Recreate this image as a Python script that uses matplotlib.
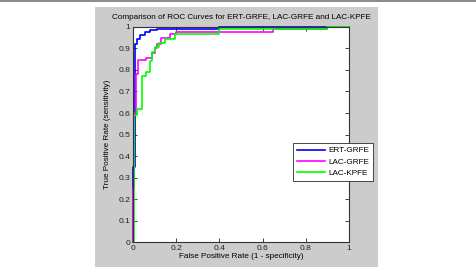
import matplotlib
matplotlib.use("Agg")
import matplotlib.pyplot as plt
from matplotlib.patches import Rectangle

plt.rcParams['font.family'] = ['Liberation Sans', 'DejaVu Sans']

title = "Comparison of ROC Curves for ERT-GRFE, LAC-GRFE and LAC-KPFE"
xlabel = "False Positive Rate (1 - specificity)"
ylabel = "True Positive Rate (sensitivity)"
labels = ["ERT-GRFE", "LAC-GRFE", "LAC-KPFE"]
colors = ["#0000ff", "#ff00ff", "#00ff00"]

ert_fpr = [0, 0, 0.008, 0.008, 0.019, 0.019, 0.032, 0.032, 0.056, 0.056, 0.08, 0.08, 0.11, 0.11, 0.4, 0.4, 1.0]
ert_tpr = [0, 0.35, 0.35, 0.92, 0.92, 0.945, 0.945, 0.96, 0.96, 0.976, 0.976, 0.987, 0.987, 0.99, 0.99, 1.0, 1.0]

lacg_fpr = [0, 0, 0.005, 0.005, 0.012, 0.012, 0.025, 0.025, 0.06, 0.06, 0.087, 0.087, 0.1, 0.1, 0.11, 0.11,
            0.13, 0.13, 0.17, 0.17, 0.2, 0.2, 0.65, 0.65, 0.9, 0.9, 1.0]
lacg_tpr = [0, 0.25, 0.25, 0.6, 0.6, 0.78, 0.78, 0.845, 0.845, 0.855, 0.855, 0.88, 0.88, 0.9, 0.9, 0.92,
            0.92, 0.95, 0.95, 0.965, 0.965, 0.975, 0.975, 0.988, 0.988, 1.0, 1.0]

lack_fpr = [0.005, 0.005, 0.02, 0.02, 0.04, 0.04, 0.059, 0.059, 0.079, 0.079, 0.09, 0.09, 0.1, 0.1,
            0.12, 0.12, 0.15, 0.15, 0.195, 0.195, 0.4, 0.4, 0.9, 0.9, 1.0]
lack_tpr = [0, 0.59, 0.59, 0.62, 0.62, 0.77, 0.77, 0.79, 0.79, 0.843, 0.843, 0.885, 0.885, 0.907,
            0.907, 0.923, 0.923, 0.943, 0.943, 0.965, 0.965, 0.988, 0.988, 1.0, 1.0]

ticks = [0, 0.1, 0.2, 0.3, 0.4, 0.5, 0.6, 0.7, 0.8, 0.9, 1]
xticks = [0, 0.2, 0.4, 0.6, 0.8, 1]

W, H = 477, 267
fig = plt.figure(figsize=(W / 100, H / 100), dpi=100)
fig.patch.set_facecolor("white")

# grey figure panel and top separator
fig.add_artist(Rectangle((95 / W, 0), (378 - 95) / W, (H - 7) / H, transform=fig.transFigure,
                         facecolor="#cccccc", edgecolor="none", zorder=-10))
fig.add_artist(Rectangle((0, (H - 2) / H), 1, 2 / H, transform=fig.transFigure,
                         facecolor="#8c8c8c", edgecolor="none", zorder=-10))

ax = fig.add_axes([133 / W, (H - 242.3) / H, 216 / W, 215.5 / H])
ax.set_zorder(1)
ax.set_facecolor("white")
fs = 5.9
for fx, ty, c, lab in [(ert_fpr, ert_tpr, colors[0], labels[0]),
                       (lacg_fpr, lacg_tpr, colors[1], labels[1]),
                       (lack_fpr, lack_tpr, colors[2], labels[2])]:
    ax.plot(fx, ty, color=c, lw=1.2, label=lab, clip_on=False)

ax.set_xlim(0, 1)
ax.set_ylim(0, 1)
ax.set_xticks(xticks)
ax.set_xticklabels([f"{t:g}" for t in xticks])
ax.set_yticks(ticks)
ax.set_yticklabels([f"{t:g}" for t in ticks])
ax.tick_params(direction="in", length=3, width=0.6, top=True, right=True, labelsize=6.1, pad=2, colors="#222222")
for s in ax.spines.values():
    s.set_linewidth(0.8)
    s.set_color("#333333")
ax.set_title(title, fontsize=5.85, pad=5.5)
ax.set_xlabel(xlabel, fontsize=fs, labelpad=1)
ax.set_ylabel(ylabel, fontsize=fs, labelpad=5.5)

leg = ax.legend(loc="upper left", bbox_to_anchor=(293 / W, 1 - 143 / H), bbox_transform=fig.transFigure,
                fontsize=fs, frameon=True, fancybox=False, framealpha=1, edgecolor="#444444",
                handlelength=3.4, handletextpad=0.45, borderpad=0.45, labelspacing=0.45, borderaxespad=0)
leg.get_frame().set_linewidth(0.7)
leg.set_zorder(5)

fig.savefig("out.png", dpi=100)
